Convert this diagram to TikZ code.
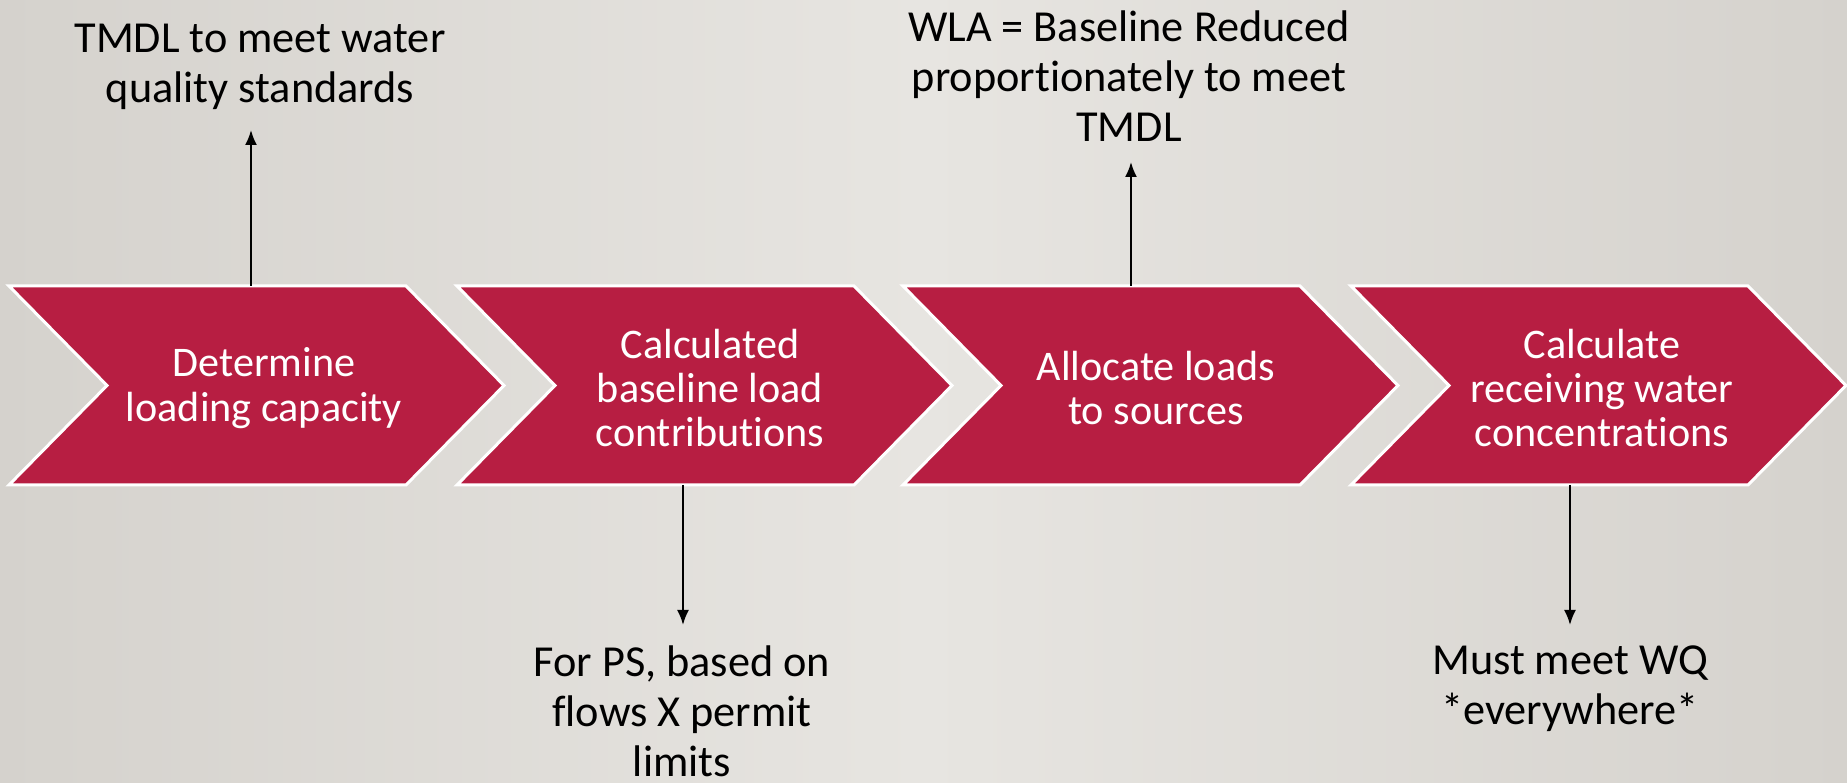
\documentclass[tikz,border=0pt]{standalone}
\usepackage{fontspec}
\setmainfont{Carlito}[Ligatures=NoCommon]
\usetikzlibrary{positioning, arrows.meta, calc}
\definecolor{tmdlred}{HTML}{B71E42}
\definecolor{bgside}{HTML}{D5D2CD}
\definecolor{bgmid}{HTML}{E7E5E1}

\begin{document}
\begin{tikzpicture}[
    chevron/.style={fill=tmdlred, draw=white, line width=0.03cm},
    steptext/.style={text=white, align=center, font=\fontsize{12}{12.6}\selectfont},
    note/.style={text=black, align=center, inner sep=0.2cm, font=\fontsize{12.6}{14.2}\selectfont},
    link/.style={-{Latex[length=0.15cm, width=0.12cm]}, line width=0.02cm}]
  \useasboundingbox (0,0) rectangle (18.47,7.83);
  \shade[left color=bgside, right color=bgside, middle color=bgmid] (0,0) rectangle (18.47,7.83);
  \foreach \x in {0.09, 4.57, 9.03, 13.51}
    \draw[chevron] (\x,4.97) -- ++(3.97,0) -- ++(0.98,-0.995) -- ++(-0.98,-0.995)
      -- ++(-3.97,0) -- ++(0.98,0.995) -- cycle;

  \node[steptext] (s1) at (2.64,3.95) {Determine\\loading capacity};
  \node[steptext] (s2) at (7.10,3.95) {Calculated\\baseline load\\contributions};
  \node[steptext] (s3) at (11.56,3.95) {Allocate loads\\to sources};
  \node[steptext] (s4) at (16.02,3.95) {Calculate\\receiving water\\concentrations};

  \coordinate (c1) at (2.51,4.97);
  \coordinate (c2) at (6.83,2.98);
  \coordinate (c3) at (11.31,4.97);
  \coordinate (c4) at (15.70,2.98);

  \node[note, anchor=south] (n1) at (2.60,6.53) {TMDL to meet water\\quality standards};
  \node[note, anchor=north] (n2) at (6.82,1.58) {For PS, based on\\flows X permit\\limits};
  \node[note, anchor=south] (n3) at (11.29,6.21) {WLA = Baseline Reduced\\proportionately to meet\\TMDL};
  \node[note, anchor=north] (n4) at (15.70,1.58) {Must meet WQ\\*everywhere*};

  \draw[link] (c1) -- (n1.south -| c1);
  \draw[link] (c2) -- (n2.north -| c2);
  \draw[link] (c3) -- (n3.south -| c3);
  \draw[link] (c4) -- (n4.north -| c4);
\end{tikzpicture}
\end{document}
